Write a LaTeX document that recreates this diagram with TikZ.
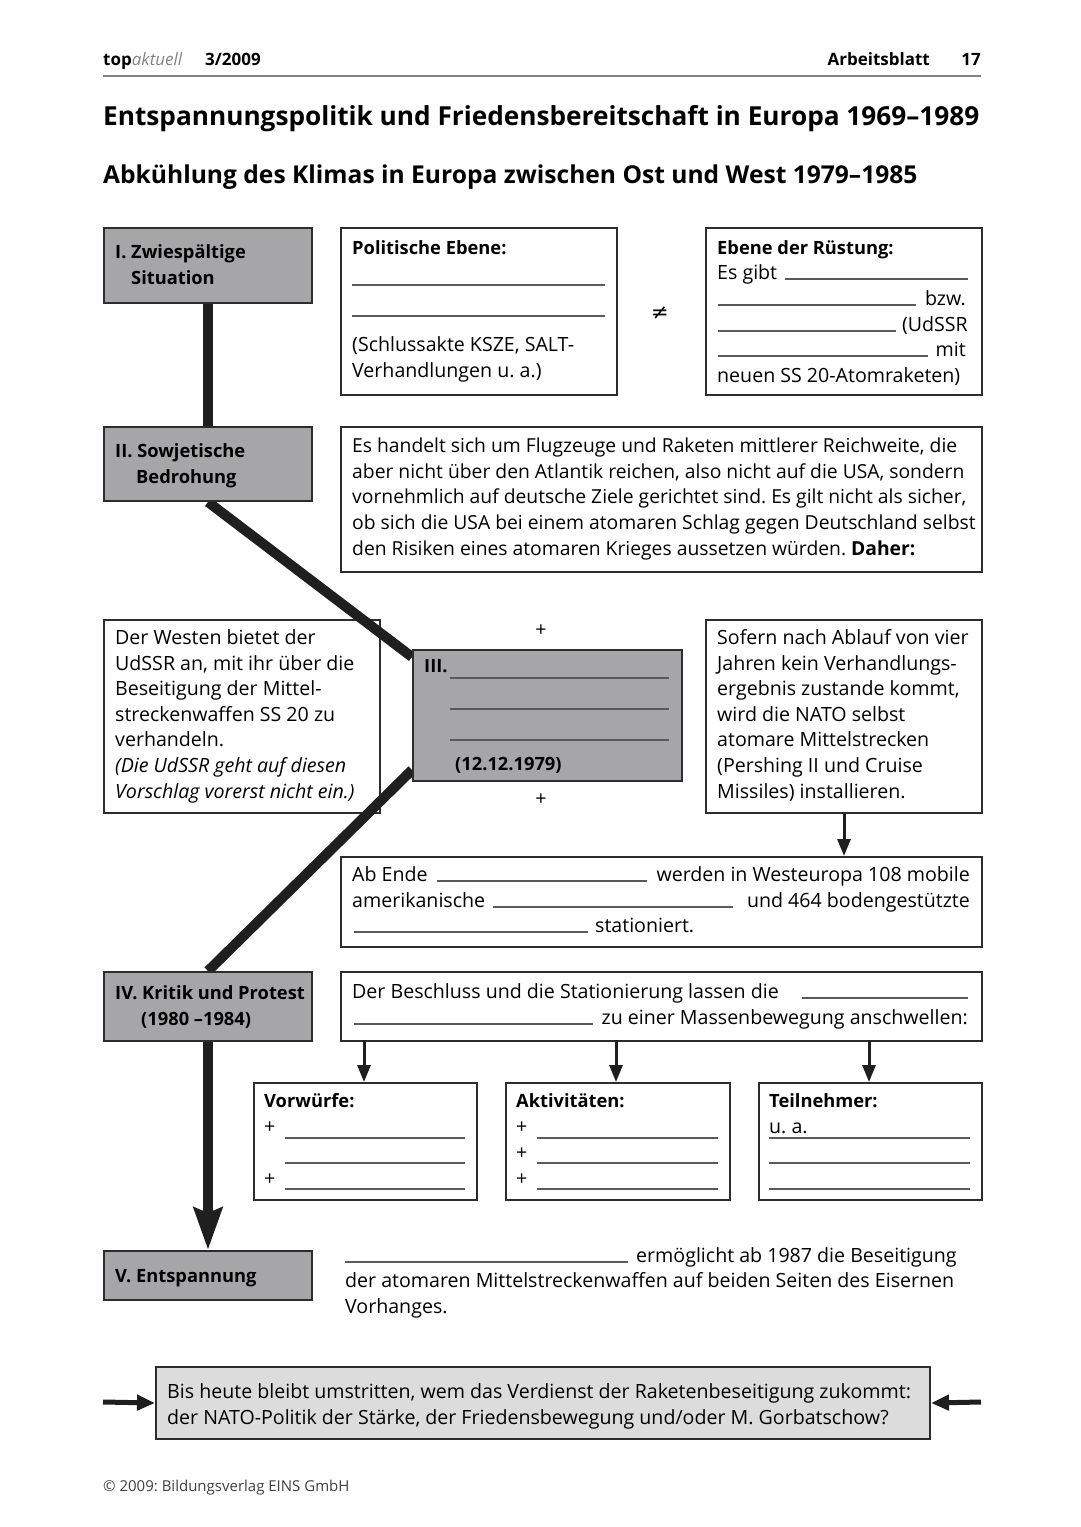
\documentclass[tikz,border=0pt]{standalone}
\usepackage{fontspec}
\setmainfont{Open Sans}
\newfontfamily\symfont{DejaVu Sans}
\usetikzlibrary{arrows.meta}
\frenchspacing

\definecolor{boxgray}{RGB}{166,166,168}
\definecolor{lightbox}{RGB}{220,220,220}
\definecolor{frame}{RGB}{45,45,45}
\definecolor{blankline}{RGB}{90,90,90}
\definecolor{brandgray}{RGB}{130,130,130}

\newcommand{\body}{\fontsize{19.6}{25.6}\selectfont}
\newcommand{\boldbody}{\fontsize{18.3}{25.6}\selectfont\bfseries}
\newcommand{\hdr}{\fontsize{17}{20}\selectfont\bfseries}

\tikzset{
  box/.style={draw=frame, line width=2pt, fill=white, anchor=north west, inner sep=0pt},
  graybox/.style={box, fill=boxgray},
  txt/.style={anchor=base west, inner sep=0pt, font=\body, align=left},
  rtxt/.style={anchor=base east, inner sep=0pt, font=\body},
  boldtxt/.style={txt, font=\boldbody},
  blank/.style={draw=blankline, line width=1.2pt},
  mainpath/.style={line width=10pt, draw=black!88},
  smallarrow/.style={line width=3pt, draw=black!88, -{Triangle[length=17pt,width=13pt]}},
}

\begin{document}
\begin{tikzpicture}[x=1pt, y=-1pt]
\useasboundingbox[fill=white] (0,0) rectangle (1080,1527);

% header
\node[anchor=base west, font=\hdr, inner sep=0pt] (brand) at (103,65) {top\textcolor{brandgray}{\mdseries\itshape aktuell}};
\node[anchor=base west, font=\hdr, inner sep=0pt] (issue) at (205,65) {3/2009};
\node[anchor=base east, font=\hdr, inner sep=0pt] (sheet) at (930,65) {Arbeitsblatt};
\node[anchor=base east, font=\hdr, inner sep=0pt] (page) at (981,65) {17};
\draw[brandgray, line width=1.5pt] (103,76) -- (981,76);

\node[anchor=base west, inner sep=0pt, font=\fontsize{26.2}{30}\selectfont\bfseries] (title) at (103,125)
  {Entspannungspolitik und Friedensbereitschaft in Europa 1969--1989};
\node[anchor=base west, inner sep=0pt, font=\fontsize{24.6}{28}\selectfont\bfseries] (subtitle) at (103,183)
  {Abkühlung des Klimas in Europa zwischen Ost und West 1979--1985};

% white boxes
\node[box, minimum width=276pt, minimum height=167pt] (pol) at (340,227) {};
\node[box, minimum width=276pt, minimum height=167pt] (ruest) at (705,227) {};
\node[box, minimum width=641pt, minimum height=145pt] (reich) at (340,426) {};
\node[box, minimum width=276pt, minimum height=193pt] (west) at (103,619) {};
\node[box, minimum width=276pt, minimum height=193pt] (sofern) at (705,619) {};
\node[box, minimum width=641pt, minimum height=90pt] (abende) at (340,856) {};
\node[box, minimum width=641pt, minimum height=69pt] (beschluss) at (340,971) {};
\node[box, minimum width=223pt, minimum height=117pt] (vorw) at (253,1082) {};
\node[box, minimum width=224pt, minimum height=117pt] (aktiv) at (505,1082) {};
\node[box, minimum width=223pt, minimum height=117pt] (teiln) at (758,1082) {};

% thick path through the stages
\node[graybox, minimum width=208pt, minimum height=75pt] (s1) at (103,227) {};
\node[graybox, minimum width=208pt, minimum height=74pt] (s2) at (103,426) {};
\node[graybox, minimum width=208pt, minimum height=69pt] (s4) at (103,971) {};
\node[graybox, minimum width=208pt, minimum height=49pt] (s5) at (103,1250) {};
\draw[mainpath] (s1.south) -- (s2.north);
\draw[mainpath] (s2.south) -- ([yshift=-8pt]412,649);
\draw[mainpath] (412,770) -- (s4.north);
\draw[mainpath, -{Stealth[length=42pt,width=28pt,inset=5pt]}] (s4.south) -- (s5.north);
\node[graybox, minimum width=269pt, minimum height=131pt] (s3) at (412,649) {};
\node[graybox, minimum width=208pt, minimum height=75pt] at (103,227) {};
\node[graybox, minimum width=208pt, minimum height=74pt] at (103,426) {};
\node[graybox, minimum width=208pt, minimum height=69pt] at (103,971) {};
\node[graybox, minimum width=208pt, minimum height=49pt] at (103,1250) {};

% stage labels (multi-line nodes sit on their last baseline)
\node[boldtxt] at (115,284) {I. Zwiespältige\\\hspace*{16pt}Situation};
\node[boldtxt] at (115,483) {II. Sowjetische\\\hspace*{21pt}Bedrohung};
\node[boldtxt] at (424,672) {III.};
\foreach \yy in {678,709,740} \draw[blank] (450,\yy) -- (669,\yy);
\node[boldtxt] at (455,770) {(12.12.1979)};
\node[font=\body] (plustop) at (541,631) {+};
\node[font=\body] (plusbot) at (541,800) {+};
\node[boldtxt] at (115,1025) {IV. Kritik und Protest\\\hspace*{26pt}(1980 --1984)};
\node[boldtxt] at (115,1282) {V. Entspannung};

% first row
\node[boldtxt] at (352,254) {Politische Ebene:};
\draw[blank] (352,285) -- (605,285);
\draw[blank] (352,316) -- (605,316);
\node[txt] at (352,377) {(Schlussakte KSZE, SALT-\\Verhandlungen u. a.)};
\node[font=\fontsize{21}{21}\selectfont\symfont\itshape] (neq) at (660,313) {≠};
\node[boldtxt] at (717,254) {Ebene der Rüstung:};
\node[txt] at (717,279) {Es gibt};
\draw[blank] (785,279) -- (968,279);
\draw[blank] (718,305) -- (916,305);
\node[rtxt] at (966,305) {bzw.};
\draw[blank] (718,331) -- (896,331);
\node[rtxt] at (968,331) {(UdSSR};
\draw[blank] (718,356) -- (928,356);
\node[rtxt] at (966,356) {mit};
\node[txt] at (717,382) {neuen SS 20-Atomraketen)};

\node[txt, font=\fontsize{19.3}{25.6}\selectfont] at (352,555) {Es handelt sich um Flugzeuge und Raketen mittlerer Reichweite, die\\
aber nicht über den Atlantik reichen, also nicht auf die USA, sondern\\
vornehmlich auf deutsche Ziele gerichtet sind. Es gilt nicht als sicher,\\
ob sich die USA bei einem atomaren Schlag gegen Deutschland selbst\\
den Risiken eines atomaren Krieges aussetzen würden. \textbf{Daher:}};

\node[txt] at (115,798) {Der Westen bietet der\\UdSSR an, mit ihr über die\\Beseitigung der Mittel-\\streckenwaffen SS 20 zu\\verhandeln.\\\textit{(Die UdSSR geht auf diesen}\\\textit{Vorschlag vorerst nicht ein.)}};
\node[txt] at (717,798) {Sofern nach Ablauf von vier\\Jahren kein Verhandlungs-\\ergebnis zustande kommt,\\wird die NATO selbst\\atomare Mittelstrecken\\(Pershing II und Cruise\\Missiles) installieren.};

\draw[smallarrow] (sofern.south) -- (sofern.south |- abende.north);

\node[txt] at (352,881) {Ab Ende};
\draw[blank] (437,881) -- (647,881);
\node[rtxt] at (970,881) {werden in Westeuropa 108 mobile};
\node[txt] at (352,907) {amerikanische};
\draw[blank] (493,907) -- (733,907);
\node[rtxt] at (970,907) {und 464 bodengestützte};
\draw[blank] (354,932) -- (588,932);
\node[txt] at (595,932) {stationiert.};

\node[txt] at (352,998) {Der Beschluss und die Stationierung lassen die};
\draw[blank] (802,998) -- (968,998);
\draw[blank] (354,1024) -- (593,1024);
\node[rtxt] at (968,1024) {zu einer Massenbewegung anschwellen:};

\draw[smallarrow] (364,1040) -- (364,1082);
\draw[smallarrow] (616,1040) -- (616,1082);
\draw[smallarrow] (869,1040) -- (869,1082);

% three boxes
\node[boldtxt] at (264,1107) {Vorwürfe:};
\node[txt] at (264,1133) {+};
\node[txt] at (264,1185) {+};
\foreach \yy in {1138,1163,1189} \draw[blank] (285,\yy) -- (465,\yy);
\node[boldtxt] at (516,1107) {Aktivitäten:};
\foreach \yy in {1133,1159,1185} \node[txt] at (516,\yy) {+};
\foreach \yy in {1138,1163,1189} \draw[blank] (537,\yy) -- (718,\yy);
\node[boldtxt] at (769,1107) {Teilnehmer:};
\node[txt] at (769,1133) {u. a.};
\foreach \yy in {1138,1163,1189} \draw[blank] (769,\yy) -- (970,\yy);

% final
\draw[blank] (345,1262) -- (628,1262);
\node[txt] at (636,1262) {ermöglicht ab 1987 die Beseitigung};
\node[txt] at (345,1313) {der atomaren Mittelstreckenwaffen auf beiden Seiten des Eisernen\\Vorhanges.};

\node[box, fill=lightbox, minimum width=774pt, minimum height=72pt] (frage) at (155,1366) {};
\node[txt] at (167,1424) {Bis heute bleibt umstritten, wem das Verdienst der Raketenbeseitigung zukommt:\\der NATO-Politik der Stärke, der Friedensbewegung und/oder M. Gorbatschow?};
\coordinate (links) at (103,1402);
\coordinate (rechts) at (981,1402);
\draw[line width=5pt, draw=black!88, -{Triangle[length=18pt,width=15pt]}] (links) -- (frage.west);
\draw[line width=5pt, draw=black!88, -{Triangle[length=18pt,width=15pt]}] (rechts) -- (frage.east);

\node[anchor=base west, inner sep=0pt, font=\fontsize{15}{18}\selectfont, text=black!75] (copy) at (103,1491) {© 2009: Bildungsverlag EINS GmbH};
\end{tikzpicture}
\end{document}
